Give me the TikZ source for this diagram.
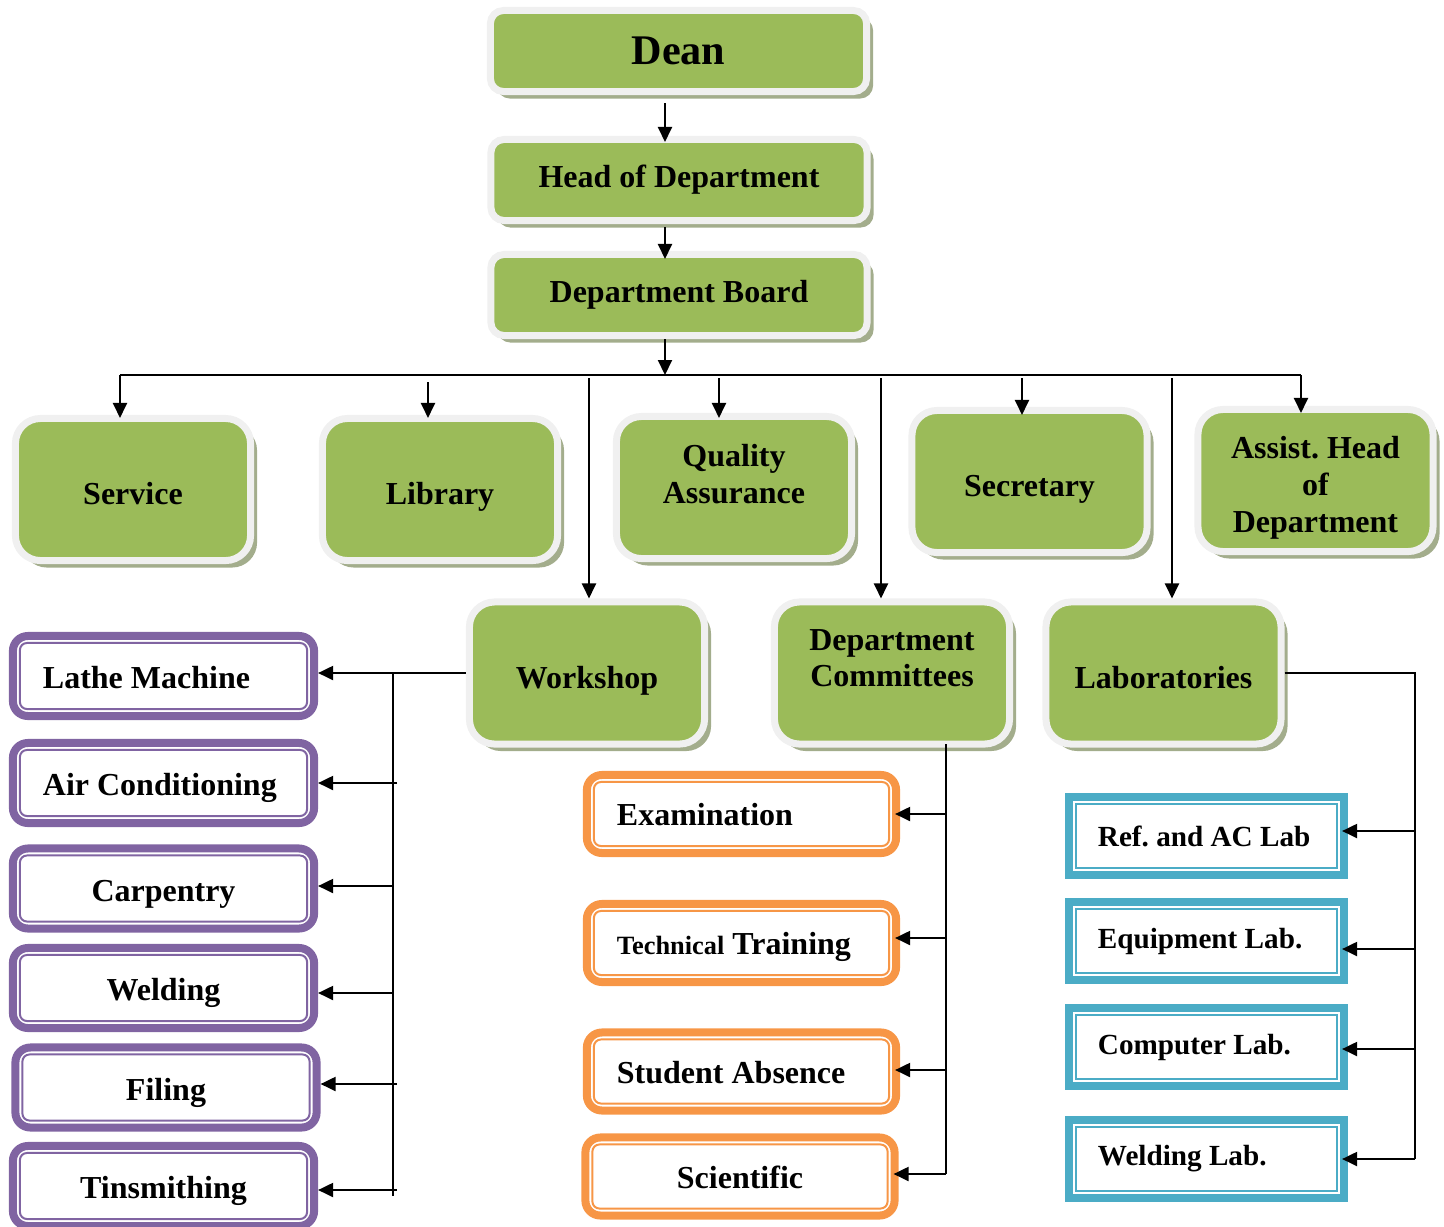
\documentclass[tikz,border=0pt]{standalone}
\usepackage{fontspec}
\setmainfont{Liberation Serif}
\usetikzlibrary{arrows.meta,shadows,calc}
\definecolor{gfill}{HTML}{9BBB59}
\definecolor{gframe}{HTML}{F0F0F0}
\definecolor{gshadow}{HTML}{A3AD8C}
\definecolor{pur}{HTML}{8064A2}
\definecolor{org}{HTML}{F79646}
\definecolor{blu}{HTML}{4BACC6}
\frenchspacing
\begin{document}
\begin{tikzpicture}[x=0.01cm,y=-0.01cm,
  font=\bfseries\fontsize{9.1}{10.5}\selectfont,
  gbox/.style={draw=gframe, fill=gfill, line width=0.07cm, rounded corners=0.25cm,
    drop shadow={shadow xshift=0.065cm, shadow yshift=-0.07cm, fill=gshadow, opacity=1},
    minimum width=2.35cm, minimum height=1.42cm, align=center, inner sep=0pt},
  gone/.style={gbox, text height=0.3cm, text depth=0pt},
  topbox/.style={gbox, rounded corners=0.13cm, minimum width=3.76cm, minimum height=0.81cm},
  pbox/.style={draw=pur, line width=0.08cm, rounded corners=0.15cm, fill=white,
    minimum width=3.01cm, minimum height=0.80cm, inner sep=0pt,
    text height=0.25cm, text depth=0pt},
  obox/.style={draw=org, line width=0.08cm, rounded corners=0.15cm, fill=white,
    minimum width=3.09cm, minimum height=0.78cm, inner sep=0pt,
    text height=0.23cm, text depth=0pt},
  bbox/.style={draw=blu, line width=0.08cm, fill=white, minimum width=2.75cm,
    minimum height=0.78cm, inner sep=0pt, font=\bfseries\fontsize{8.3}{10}\selectfont},
  arr/.style={-{Triangle[length=0.15cm,width=0.14cm]}, line width=0.02cm},
  ln/.style={line width=0.02cm}]
\useasboundingbox (0,0) rectangle (1444,1226);

% top chain
\node[topbox, font=\bfseries\fontsize{12}{14}\selectfont] (dean) at (678.5,51) {Dean};
\node[topbox] (hod) at (679,180) {Head of Department};
\node[topbox] (board) at (679,295) {Department Board};

% second row
\node[gone] (service) at (133,489.5) {Service};
\node[gone] (library) at (440,489.5) {Library};
\node[gbox, text depth=0.28cm] (qa) at (734,487.5) {Quality\\Assurance};
\node[gone] (secretary) at (1029.5,481.5) {Secretary};
\node[gbox, text height=1.04cm, text depth=0pt] (assist) at (1315.5,480.5) {Assist. Head\\of\\Department};

% third row
\node[gone] (workshop) at (587,673) {Workshop};
\node[gbox, text depth=0.3cm] (committees) at (892,673) {Department\\Committees};
\node[gone] (labs) at (1163.5,673) {Laboratories};

% workshop children
\node[pbox] (lathe) at (163.5,676) {\makebox[2.41cm][l]{Lathe Machine}};
\node[pbox] (air) at (163.5,783) {\makebox[2.41cm][l]{Air Conditioning}};
\node[pbox] (carp) at (163.5,888.5) {Carpentry};
\node[pbox] (weld) at (163.5,988) {Welding};
\node[pbox] (filing) at (166,1087.5) {Filing};
\node[pbox] (tin) at (163.5,1186) {Tinsmithing};
\foreach \n in {lathe,air,carp,weld,filing,tin}
  \draw[pur, line width=0.02cm, rounded corners=0.07cm]
    ($(\n.south west)+(11,-11)$) rectangle ($(\n.north east)+(-11,11)$);

% committees children
\node[obox] (exam) at (741.5,814) {\makebox[2.49cm][l]{Examination}};
\node[obox] (tech) at (741.5,943) {\makebox[2.49cm][l]{{\fontsize{7.5}{9}\selectfont Technical} Training}};
\node[obox] (absence) at (741.5,1071.5) {\makebox[2.49cm][l]{Student Absence}};
\node[obox] (sci) at (740,1176.5) {Scientific};
\foreach \n in {exam,tech,absence,sci}
  \draw[org, line width=0.02cm, rounded corners=0.07cm]
    ($(\n.south west)+(11,-11)$) rectangle ($(\n.north east)+(-11,11)$);

% laboratories children
\node[bbox] (reflab) at (1206.5,836) {\makebox[2.17cm][l]{Ref. and AC Lab}};
\node[bbox] (equip) at (1206.5,941) {\makebox[2.17cm][l]{Equipment Lab.}};
\node[bbox] (complab) at (1206.5,1047) {\makebox[2.17cm][l]{Computer Lab.}};
\node[bbox] (weldlab) at (1206.5,1159) {\makebox[2.17cm][l]{Welding Lab.}};
\foreach \n in {reflab,equip,complab,weldlab}
  \draw[blu, line width=0.02cm]
    ($(\n.south west)+(11,-11)$) rectangle ($(\n.north east)+(-11,11)$);

% connectors: top chain
\coordinate (c665) at (665,0);
\draw[arr, shorten <=0.08cm, shorten >=-0.06cm] (dean.south -| c665) -- (hod.north -| c665);
\draw[arr, shorten <=0.03cm, shorten >=-0.08cm] (hod.south -| c665) -- (board.north -| c665);
\coordinate (busL) at (120,375);
\coordinate (busR) at (1301,375);
\draw[arr] (board.south -| c665) -- (c665 |- busL);
\draw[ln] (busL) -- (busR);

% drops
\draw[arr, shorten >=-0.03cm] (busL) -- (busL |- service.north);
\coordinate (libt) at (428,382);
\draw[arr, shorten >=-0.03cm] (libt) -- (libt |- library.north);
\coordinate (qat) at (719,378);
\draw[arr, shorten >=-0.05cm] (qat) -- (qat |- qa.north);
\coordinate (sect) at (1022,378);
\draw[arr, shorten >=-0.08cm] (sect) -- (sect |- secretary.north);
\draw[arr, shorten >=-0.07cm] (busR) -- (busR |- assist.north);
\coordinate (wst) at (589,378);
\draw[arr] (wst) -- (wst |- workshop.north);
\coordinate (cmt) at (881,378);
\draw[arr] (cmt) -- (cmt |- committees.north);
\coordinate (lbt) at (1172,378);
\draw[arr] (lbt) -- (lbt |- labs.north);

% workshop branch
\draw[arr] (workshop.west) -- (workshop.west -| lathe.east);
\coordinate (wb) at (393,673);
\coordinate (wbe) at (393,1196);
\draw[ln] (wb) -- (wbe);
\coordinate (w2) at (397,783);
\coordinate (w3) at (393,886);
\coordinate (w4) at (393,993);
\coordinate (w5) at (397,1084);
\coordinate (w6) at (397,1190);
\draw[arr] (w2) -- (w2 -| air.east);
\draw[arr] (w3) -- (w3 -| carp.east);
\draw[arr] (w4) -- (w4 -| weld.east);
\draw[arr] (w5) -- (w5 -| filing.east);
\draw[arr] (w6) -- (w6 -| tin.east);

% committees branch
\coordinate (cb) at (946,744);
\coordinate (cbe) at (946,1174);
\draw[ln] (cb) -- (cbe);
\coordinate (o1) at (946,814);
\coordinate (o2) at (946,938);
\coordinate (o3) at (946,1070);
\coordinate (o4) at (946,1174);
\draw[arr, shorten >=-0.05cm] (o1) -- (o1 -| exam.east);
\draw[arr, shorten >=-0.05cm] (o2) -- (o2 -| tech.east);
\draw[arr, shorten >=-0.05cm] (o3) -- (o3 -| absence.east);
\draw[arr, shorten >=-0.05cm] (o4) -- (o4 -| sci.east);

% laboratories branch
\coordinate (lb) at (1415,673);
\coordinate (lbe) at (1415,1159);
\draw[ln] (labs.east) -- (lb) -- (lbe);
\coordinate (b1) at (1415,831);
\coordinate (b2) at (1415,949);
\coordinate (b3) at (1415,1049);
\coordinate (b4) at (1415,1159);
\draw[arr, shorten >=-0.06cm] (b1) -- (b1 -| reflab.east);
\draw[arr, shorten >=-0.06cm] (b2) -- (b2 -| equip.east);
\draw[arr, shorten >=-0.06cm] (b3) -- (b3 -| complab.east);
\draw[arr, shorten >=-0.06cm] (b4) -- (b4 -| weldlab.east);
\end{tikzpicture}
\end{document}
